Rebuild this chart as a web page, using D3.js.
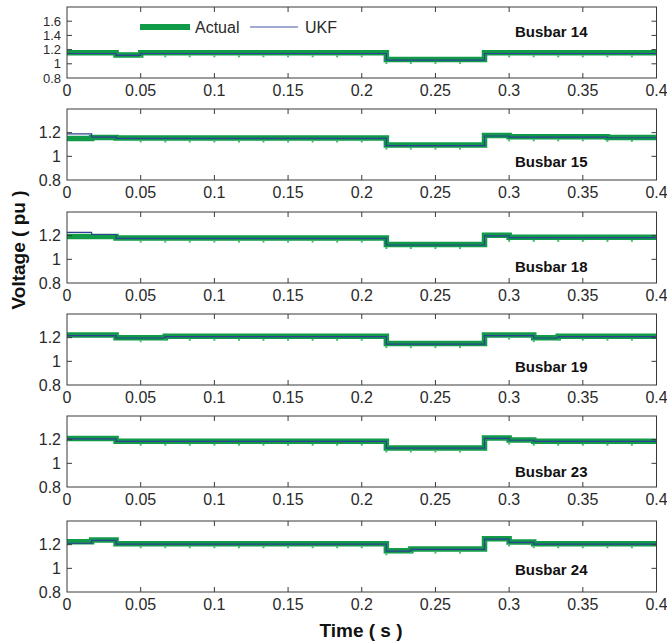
<!DOCTYPE html>
<meta charset="utf-8">
<script src="https://cdn.jsdelivr.net/npm/d3@7"></script>
<style>
body { margin: 0; background: #fff; }
text { font-family: Arial, "Liberation Sans", sans-serif; }
.ticklabel { font-size: 16px; fill: #2a2a2a; }
.ticklabel.small { font-size: 13px; }
.frame { fill: none; stroke: #3a3a3a; stroke-width: 1px; }
.tickmark { stroke: #3a3a3a; stroke-width: 1px; }
.actual { fill: none; stroke: #119a48; stroke-width: 5.5px; }
.ukf { fill: none; stroke: #2f3f98; stroke-width: 1.2px; }
.busname { font-size: 15px; font-weight: bold; fill: #111; }
.axislabel { font-size: 19px; font-weight: bold; fill: #111; }
</style>
<body>
<script>

// sample instants (s), one every 1/60 s
var times = [0, 0.0167, 0.0333, 0.05, 0.0667, 0.0833, 0.1, 0.1167, 0.1333, 0.15, 0.1667, 0.1833,
             0.2, 0.2167, 0.2333, 0.25, 0.2667, 0.2833, 0.3, 0.3167, 0.3333, 0.35, 0.3667, 0.3833, 0.4];

var busbars = ["Busbar 14", "Busbar 15", "Busbar 18", "Busbar 19", "Busbar 23", "Busbar 24"];

var bus14Actual = [1.155, 1.155, 1.125, 1.155, 1.155, 1.155, 1.155, 1.155, 1.155, 1.155, 1.155, 1.155,
                   1.155, 1.062, 1.062, 1.062, 1.062, 1.155, 1.155, 1.155, 1.155, 1.155, 1.155, 1.155, 1.155];
var bus14Ukf    = [1.145, 1.145, 1.12, 1.145, 1.145, 1.145, 1.145, 1.145, 1.145, 1.145, 1.145, 1.145,
                   1.145, 1.052, 1.052, 1.052, 1.052, 1.145, 1.145, 1.145, 1.145, 1.145, 1.145, 1.145, 1.145];

var bus15Actual = [1.15, 1.16, 1.155, 1.155, 1.155, 1.155, 1.155, 1.155, 1.155, 1.155, 1.155, 1.155,
                   1.155, 1.095, 1.095, 1.095, 1.095, 1.177, 1.165, 1.165, 1.165, 1.165, 1.16, 1.16, 1.16];
var bus15Ukf    = [1.19, 1.163, 1.152, 1.152, 1.152, 1.152, 1.152, 1.152, 1.152, 1.152, 1.152, 1.152,
                   1.152, 1.09, 1.09, 1.09, 1.09, 1.172, 1.162, 1.162, 1.162, 1.162, 1.157, 1.157, 1.157];

var bus18Actual = [1.194, 1.194, 1.18, 1.18, 1.18, 1.18, 1.18, 1.18, 1.18, 1.18, 1.18, 1.18,
                   1.18, 1.125, 1.125, 1.125, 1.125, 1.203, 1.186, 1.186, 1.186, 1.186, 1.186, 1.186, 1.186];
var bus18Ukf    = [1.228, 1.21, 1.177, 1.177, 1.177, 1.177, 1.177, 1.177, 1.177, 1.177, 1.177, 1.177,
                   1.177, 1.121, 1.121, 1.121, 1.121, 1.199, 1.183, 1.183, 1.183, 1.183, 1.183, 1.183, 1.183];

var bus19Actual = [1.222, 1.222, 1.2, 1.2, 1.212, 1.212, 1.212, 1.212, 1.212, 1.212, 1.212, 1.212,
                   1.212, 1.15, 1.15, 1.15, 1.15, 1.222, 1.222, 1.2, 1.213, 1.213, 1.213, 1.213, 1.213];
var bus19Ukf    = [1.217, 1.217, 1.197, 1.197, 1.208, 1.208, 1.208, 1.208, 1.208, 1.208, 1.208, 1.208,
                   1.208, 1.146, 1.146, 1.146, 1.146, 1.218, 1.218, 1.197, 1.209, 1.209, 1.209, 1.209, 1.209];

var bus23Actual = [1.209, 1.209, 1.187, 1.187, 1.187, 1.187, 1.187, 1.187, 1.187, 1.187, 1.187, 1.187,
                   1.187, 1.13, 1.13, 1.13, 1.13, 1.214, 1.197, 1.187, 1.187, 1.187, 1.187, 1.187, 1.187];
var bus23Ukf    = [1.207, 1.207, 1.185, 1.185, 1.185, 1.185, 1.185, 1.185, 1.185, 1.185, 1.185, 1.185,
                   1.185, 1.128, 1.128, 1.128, 1.128, 1.211, 1.195, 1.185, 1.185, 1.185, 1.185, 1.185, 1.185];

var bus24Actual = [1.225, 1.24, 1.208, 1.208, 1.208, 1.208, 1.208, 1.208, 1.208, 1.208, 1.208, 1.208,
                   1.208, 1.148, 1.163, 1.163, 1.163, 1.25, 1.223, 1.208, 1.208, 1.208, 1.208, 1.208, 1.208];
var bus24Ukf    = [1.212, 1.236, 1.205, 1.205, 1.205, 1.205, 1.205, 1.205, 1.205, 1.205, 1.205, 1.205,
                   1.205, 1.145, 1.16, 1.16, 1.16, 1.246, 1.22, 1.205, 1.205, 1.205, 1.205, 1.205, 1.205];

var actualSeries = [bus14Actual, bus15Actual, bus18Actual, bus19Actual, bus23Actual, bus24Actual];
var ukfSeries = [bus14Ukf, bus15Ukf, bus18Ukf, bus19Ukf, bus23Ukf, bus24Ukf];

var xTicks = [0, 0.05, 0.1, 0.15, 0.2, 0.25, 0.3, 0.35, 0.4];
var xTickLabels = ["0", "0.05", "0.1", "0.15", "0.2", "0.25", "0.3", "0.35", "0.4"];
var yTicksFirst = [0.8, 1, 1.2, 1.4, 1.6];
var yTicksOther = [0.8, 1, 1.2];

// layout
var width = 667, height = 642;
var left = 67, right = 656.5, panelH = 71;
var panelTop = [7, 109, 212, 314, 416, 521];
var labelDy = [25, 53, 55, 53, 56, 49];

var svg = d3.select("body").append("svg")
    .attr("width", width)
    .attr("height", height);

var x = d3.scaleLinear().domain([0, 0.4]).range([left, right]);

var line = function(y) {
  return d3.line()
      .x(function(d) { return x(d.t); })
      .y(function(d) { return y(d.v); })
      .curve(d3.curveStepAfter);
};

busbars.forEach(function(name, i) {
  var top = panelTop[i], bottom = top + panelH;
  var y = d3.scaleLinear()
      .domain(i == 0 ? [0.8, 1.8] : [0.8, 1.4])
      .range([bottom, top]);
  var yTicks = i == 0 ? yTicksFirst : yTicksOther;

  var g = svg.append("g");

  g.append("clipPath").attr("id", "clip" + i)
    .append("rect")
      .attr("x", left).attr("y", top)
      .attr("width", right - left).attr("height", panelH);

  var plot = g.append("g").attr("clip-path", "url(#clip" + i + ")");

  var actual = times.map(function(t, k) { return {t: t, v: actualSeries[i][k]}; });
  var ukf = times.map(function(t, k) { return {t: t, v: ukfSeries[i][k]}; });

  plot.append("path").datum(actual).attr("class", "actual").attr("d", line(y));

  // little sample markers under the thick line
  plot.selectAll(".dot").data(actual.slice(3, 24)).enter()
    .append("rect")
      .attr("x", function(d) { return x(d.t) - 1; })
      .attr("y", function(d) { return y(d.v) + 2.5; })
      .attr("width", 2).attr("height", 2)
      .style("fill", "#3fbf68");

  plot.append("path").datum(ukf).attr("class", "ukf").attr("d", line(y));

  // frame
  g.append("rect").attr("class", "frame")
    .attr("x", left).attr("y", top)
    .attr("width", right - left).attr("height", panelH);

  // x ticks (inward, bottom and top)
  xTicks.forEach(function(t, k) {
    if (k > 0 && k < xTicks.length - 1) {
      g.append("line").attr("class", "tickmark")
        .attr("x1", x(t)).attr("x2", x(t)).attr("y1", bottom).attr("y2", bottom - 5);
      g.append("line").attr("class", "tickmark")
        .attr("x1", x(t)).attr("x2", x(t)).attr("y1", top).attr("y2", top + 5);
    }
    g.append("text").attr("class", "ticklabel")
      .attr("x", x(t)).attr("y", bottom + 18)
      .style("text-anchor", "middle")
      .text(xTickLabels[k]);
  });

  // y ticks (inward, left and right)
  yTicks.forEach(function(v) {
    if (v > 0.8) {
      g.append("line").attr("class", "tickmark")
        .attr("x1", left).attr("x2", left + 5).attr("y1", y(v)).attr("y2", y(v));
      g.append("line").attr("class", "tickmark")
        .attr("x1", right).attr("x2", right - 5).attr("y1", y(v)).attr("y2", y(v));
    }
    g.append("text").attr("class", i == 0 ? "ticklabel small" : "ticklabel")
      .attr("x", left - 6).attr("y", y(v))
      .attr("dy", "0.36em")
      .style("text-anchor", "end")
      .text(v == 1 ? "1" : d3.format(".1f")(v));
  });

  g.append("text").attr("class", "busname")
    .attr("x", 515).attr("y", top + labelDy[i] + 5)
    .text(name);
});

// legend in the first panel
var legend = svg.append("g");
legend.append("line")
  .attr("x1", 140).attr("x2", 190).attr("y1", 27).attr("y2", 27)
  .style("stroke", "#119a48").style("stroke-width", 6);
legend.append("text").attr("class", "ticklabel")
  .attr("x", 195).attr("y", 33).text("Actual");
legend.append("line")
  .attr("x1", 250).attr("x2", 298).attr("y1", 27).attr("y2", 27)
  .style("stroke", "#4656a8").style("stroke-width", 1.2);
legend.append("text").attr("class", "ticklabel")
  .attr("x", 305).attr("y", 33).text("UKF");

// axis titles
svg.append("text").attr("class", "axislabel")
  .attr("transform", "translate(25,250) rotate(-90)")
  .style("text-anchor", "middle")
  .text("Voltage ( pu )");

svg.append("text").attr("class", "axislabel")
  .attr("x", 361).attr("y", 637)
  .style("text-anchor", "middle")
  .text("Time ( s )");

</script>
</body>
